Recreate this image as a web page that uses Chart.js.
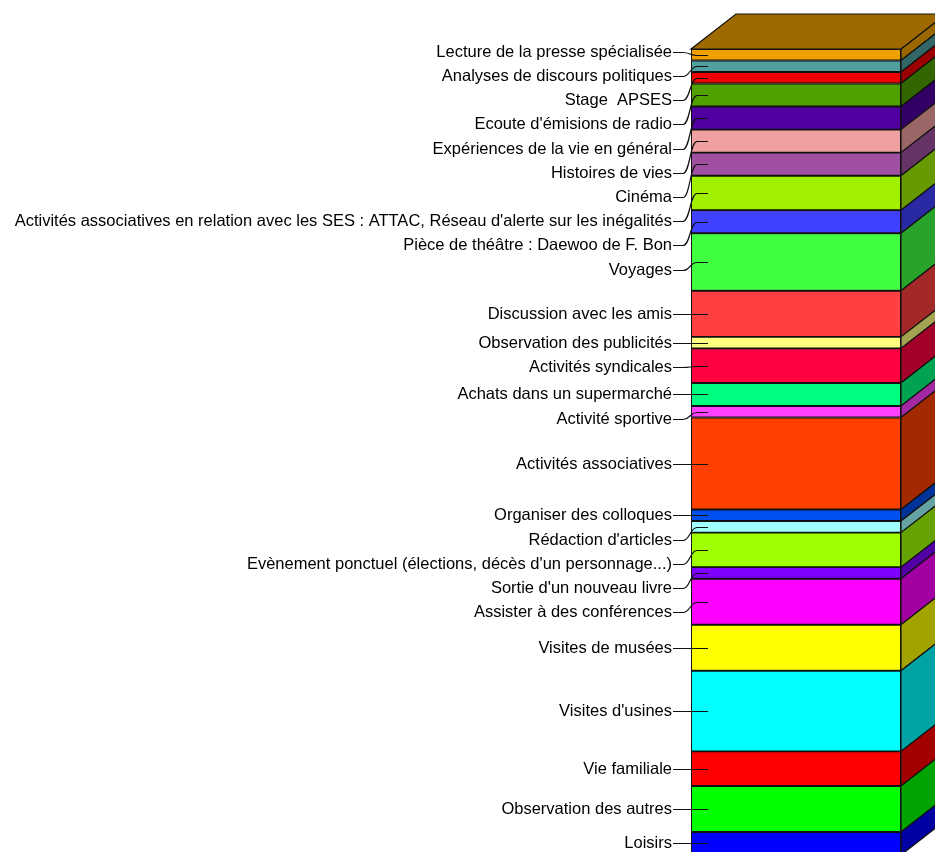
<!DOCTYPE html>
<html><head><meta charset="utf-8">
<script src="https://cdn.jsdelivr.net/npm/chart.js@4/dist/chart.umd.min.js"></script>
<style>html,body{margin:0;padding:0;background:#fff;overflow:hidden}#wrap{width:935px;height:862px;position:relative}</style>
</head><body><div id="wrap"><canvas id="c" width="935" height="862"></canvas></div>
<script>
// Activities, listed from the top of the stacked column to the bottom
const activities = [
  "Lecture de la presse spécialisée",
  "Analyses de discours politiques",
  "Stage  APSES",
  "Ecoute d'émisions de radio",
  "Expériences de la vie en général",
  "Histoires de vies",
  "Cinéma",
  "Activités associatives en relation avec les SES : ATTAC, Réseau d'alerte sur les inégalités",
  "Pièce de théâtre : Daewoo de F. Bon",
  "Voyages",
  "Discussion avec les amis",
  "Observation des publicités",
  "Activités syndicales",
  "Achats dans un supermarché",
  "Activité sportive",
  "Activités associatives",
  "Organiser des colloques",
  "Rédaction d'articles",
  "Evènement ponctuel (élections, décès d'un personnage...)",
  "Sortie d'un nouveau livre",
  "Assister à des conférences",
  "Visites de musées",
  "Visites d'usines",
  "Vie familiale",
  "Observation des autres",
  "Loisirs"
];
const counts = [1,1,1,2,2,2,2,3,2,5,4,1,3,2,1,8,1,1,3,1,4,4,7,3,4,2];
const segmentColors = [
  "#F0A000","#50A0A0","#F00000","#50A000","#5000A0","#F0A0A0","#A050A0","#A0F000",
  "#4040FF","#40FF40","#FF4040","#FFFF80","#FF0040","#00FF80","#FF40FF","#FF4000",
  "#0050F0","#A0FFFF","#A0FF00","#8000FF","#FF00FF","#FFFF00","#00FFFF","#FF0000",
  "#00FF00","#0000FF"
];

const total = counts.reduce((a,b)=>a+b,0);
const DX = 45, DY = 35, SHADE = 0.64;
function shade(hex, f){
  const n = parseInt(hex.slice(1),16);
  const r = Math.round(((n>>16)&255)*f), g = Math.round(((n>>8)&255)*f), b = Math.round((n&255)*f);
  return `rgb(${r},${g},${b})`;
}

// datasets: Chart.js stacks dataset 0 at the base, so go bottom-up
const order = activities.map((_,i)=>i).reverse();
const datasets = order.map(i => ({
  label: activities[i],
  data: [counts[i]],
  backgroundColor: segmentColors[i],
  borderColor: "#111",
  borderWidth: 1.3,
  borderSkipped: false,
  barPercentage: 1,
  categoryPercentage: 1
}));

function barRect(chart, activityIndex){
  const dsIndex = order.indexOf(activityIndex);
  const el = chart.getDatasetMeta(dsIndex).data[0];
  const p = el.getProps(['x','y','base','width'], true);
  return {L: p.x - p.width/2, R: p.x + p.width/2, top: Math.min(p.y,p.base), bottom: Math.max(p.y,p.base)};
}

const bar3d = {
  id: 'bar3d',
  afterDatasetsDraw(chart){
    const ctx = chart.ctx;
    ctx.save();
    ctx.lineWidth = 1.2;
    ctx.strokeStyle = "#111";
    ctx.lineJoin = "miter";
    activities.forEach((_, i) => {
      const r = barRect(chart, i);
      ctx.beginPath();
      ctx.moveTo(r.R, r.top);
      ctx.lineTo(r.R + DX, r.top - DY);
      ctx.lineTo(r.R + DX, r.bottom - DY);
      ctx.lineTo(r.R, r.bottom);
      ctx.closePath();
      ctx.fillStyle = shade(segmentColors[i], SHADE);
      ctx.fill();
      ctx.stroke();
    });
    const t = barRect(chart, 0);
    ctx.beginPath();
    ctx.moveTo(t.L, t.top);
    ctx.lineTo(t.L + DX, t.top - DY);
    ctx.lineTo(t.R + DX, t.top - DY);
    ctx.lineTo(t.R, t.top);
    ctx.closePath();
    ctx.fillStyle = shade(segmentColors[0], 0.66);
    ctx.fill();
    ctx.stroke();
    ctx.restore();
  }
};

const leaderLabels = {
  id: 'leaderLabels',
  afterDraw(chart){
    const ctx = chart.ctx;
    const GAP = 24.2;
    let prev = -Infinity;
    ctx.save();
    ctx.font = "16.5px 'Liberation Sans', Arial, sans-serif";
    ctx.fillStyle = "#000";
    ctx.strokeStyle = "#111";
    ctx.lineWidth = 1.2;
    ctx.textAlign = "right";
    ctx.textBaseline = "alphabetic";
    activities.forEach((name, i) => {
      const r = barRect(chart, i);
      const yc = (r.top + r.bottom)/2;
      const yl = i === 0 ? yc - 3 : Math.max(yc, prev + GAP);
      prev = yl;
      const textX = r.L - 19;
      ctx.fillText(name, textX, yl + 5);
      const a = Math.round(yl) + 0.5, b = Math.round(yc) + 0.5;
      ctx.beginPath();
      ctx.moveTo(textX + 1, a);
      if (Math.abs(a - b) < 1) {
        ctx.lineTo(r.L + 17, a);
      } else {
        ctx.lineTo(r.L - 8, a);
        ctx.bezierCurveTo(r.L - 1, a, r.L - 1, b, r.L + 6, b);
        ctx.lineTo(r.L + 17, b);
      }
      ctx.stroke();
    });
    ctx.restore();
  }
};

new Chart(document.getElementById('c'), {
  type: 'bar',
  data: { labels: [""], datasets },
  options: {
    responsive: false,
    animation: false,
    devicePixelRatio: 1,
    layout: { padding: { left: 691, right: 34, top: 49, bottom: 7 } },
    plugins: { legend: { display: false }, tooltip: { enabled: false } },
    scales: {
      x: { display: false, stacked: true },
      y: { display: false, stacked: true, min: 0, max: total }
    }
  },
  plugins: [bar3d, leaderLabels]
});
</script>
</body></html>
